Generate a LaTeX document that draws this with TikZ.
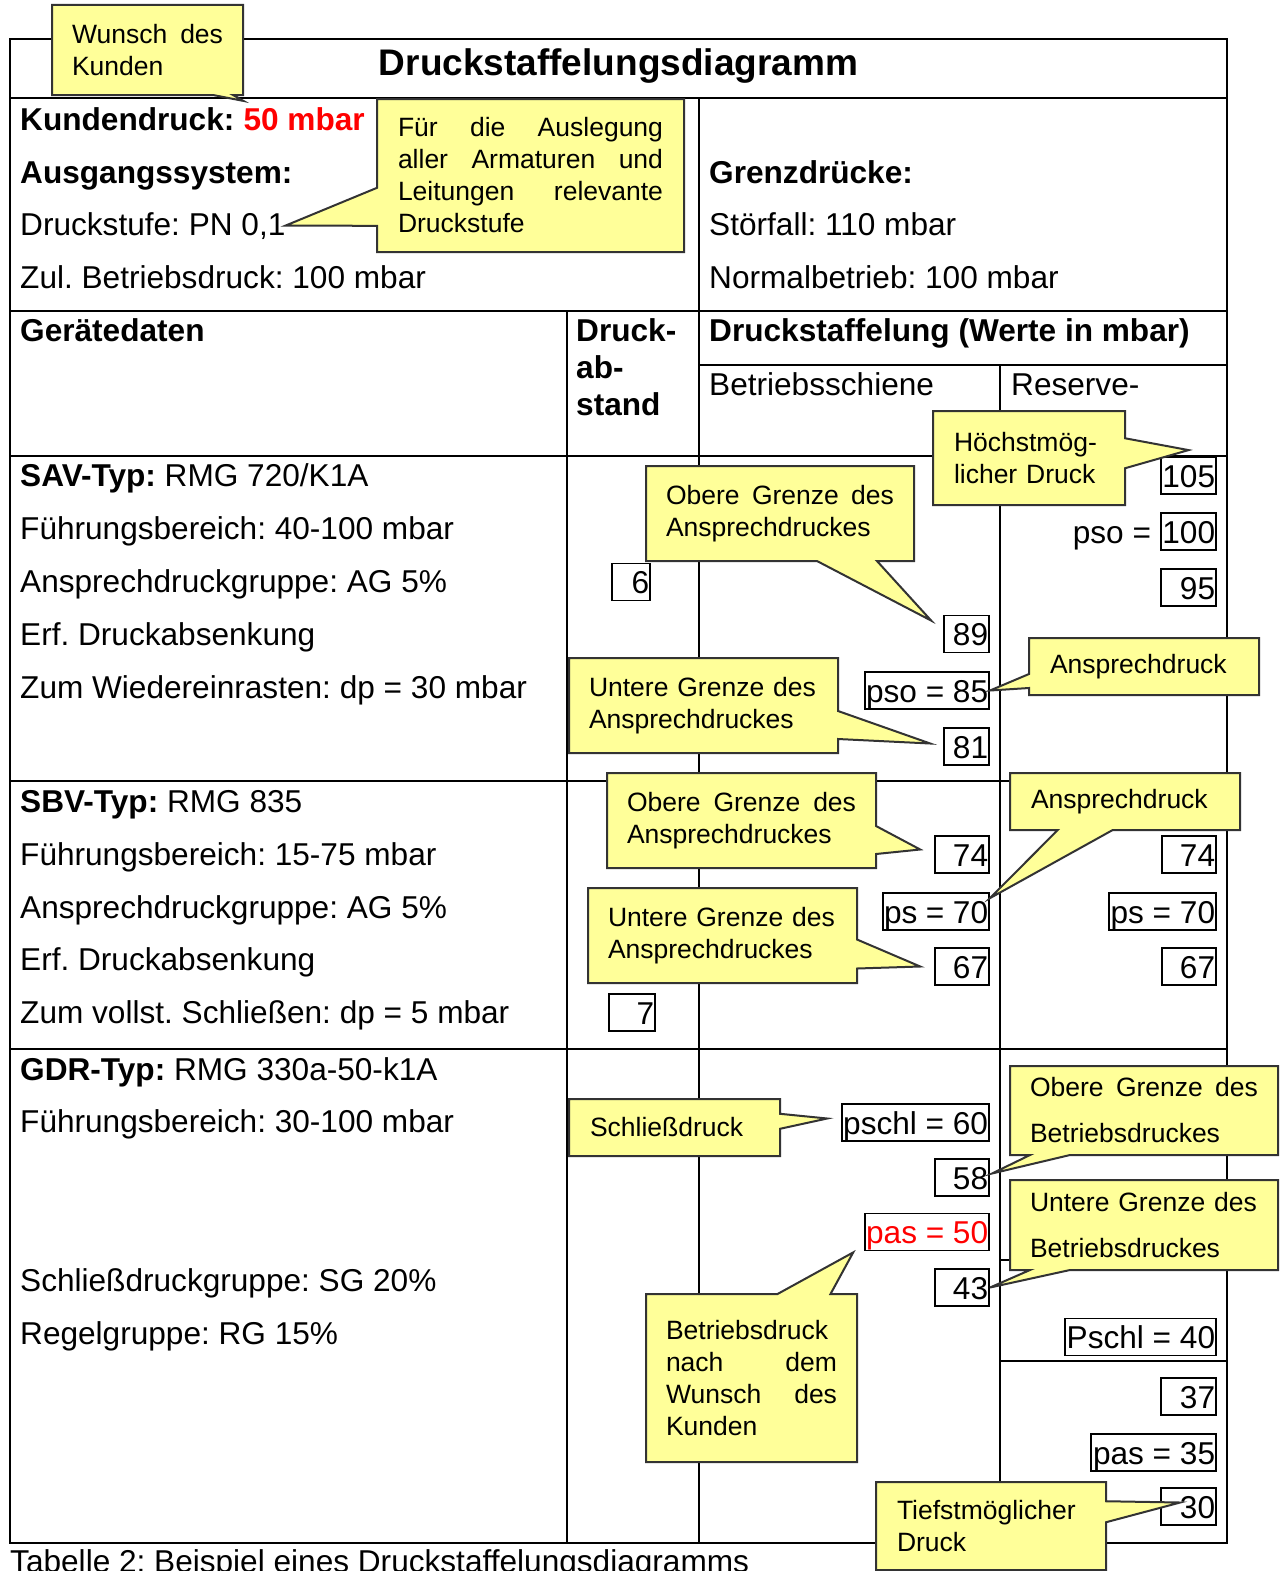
\documentclass[tikz,border=0pt]{standalone}
\usepackage{fontspec}
\setmainfont{Liberation Sans}
\usepackage{tikz}
\usetikzlibrary{shapes.callouts,positioning,calc}
\definecolor{notefill}{RGB}{255,255,153}
\definecolor{alarmred}{RGB}{255,0,0}
\hyphenpenalty=10000
\frenchspacing
\tikzset{
    table-line/.style = {line width=2pt, line cap=rect},
    cell-text/.style = {anchor=base west, inner sep=0pt, font=\fontsize{31.6}{37}\selectfont},
    cell-head/.style = {cell-text, font=\fontsize{31.6}{37}\selectfont\bfseries},
    value-text/.style = {anchor=east, inner sep=1pt, text height=29pt, text depth=6pt, font=\fontsize{31.6}{37}\selectfont},
    value-box/.style = {value-text, draw, line width=1.8pt,
        execute at begin node={\hbox to #1\bgroup\hfill}, execute at end node={\egroup}},
    note/.style = {rectangle callout, draw=black!80, line width=2pt, fill=notefill, inner sep=0pt, align=left, font=\fontsize{26.5}{32}\selectfont},
}

\begin{document}
\begin{tikzpicture}[x=1pt,y=-1pt]
\useasboundingbox (0,0) rectangle (1284,1571);

% table grid
\draw[table-line] (10,39) rectangle (1227,1543);
\draw[table-line] (10,98) -- (1227,98) (10,311) -- (1227,311) (10,456) -- (1227,456)
    (10,781) -- (1227,781) (10,1049) -- (1227,1049);
\draw[table-line] (699,98) -- (699,1543) (567,311) -- (567,1543) (1000,365) -- (1000,1543);
\draw[table-line] (699,365) -- (1227,365) (1000,1260) -- (1227,1260) (1000,1361) -- (1227,1361);

% head of the table
\node[cell-head, anchor=base, font=\fontsize{37}{44}\selectfont\bfseries] (title) at (618.5,75) {Druckstaffelungsdiagramm};
\node[cell-head] (kd) at (20,130) {Kundendruck:};
\node[cell-head, text=alarmred] (kd-value) at ([xshift=8.8pt]kd.base east) {50 mbar};
\node[cell-head] (ags) at (20,183) {Ausgangssystem:};
\node[cell-text] (ds) at (20,235) {Druckstufe: PN 0,1};
\node[cell-text] (zbd) at (20,288) {Zul. Betriebsdruck: 100 mbar};
\node[cell-head] (gd) at (709,183) {Grenzdrücke:};
\node[cell-text] (sf) at (709,235) {Störfall: 110 mbar};
\node[cell-text] (nb) at (709,288) {Normalbetrieb: 100 mbar};

\node[cell-head] (gdaten) at (20,341) {Gerätedaten};
\node[cell-head] (da-1) at (576,341) {Druck-};
\node[cell-head] (da-2) at (576,378) {ab-};
\node[cell-head] (da-3) at (576,415) {stand};
\node[cell-head] (dst) at (709,341) {Druckstaffelung (Werte in mbar)};
\node[cell-text] (bs) at (709,395) {Betriebsschiene};
\node[cell-text] (rs) at (1011,395) {Reserve-};

% device data
\node[cell-text] (sav-1) at (20,486) {\textbf{SAV-Typ:} RMG 720/K1A};
\node[cell-text] (sav-2) at (20,539) {Führungsbereich: 40-100 mbar};
\node[cell-text] (sav-3) at (20,592) {Ansprechdruckgruppe: AG 5\%};
\node[cell-text] (sav-4) at (20,645) {Erf. Druckabsenkung};
\node[cell-text] (sav-5) at (20,698) {Zum Wiedereinrasten: dp = 30 mbar};
\node[cell-text] (sbv-1) at (20,812) {\textbf{SBV-Typ:} RMG 835};
\node[cell-text] (sbv-2) at (20,865) {Führungsbereich: 15-75 mbar};
\node[cell-text] (sbv-3) at (20,918) {Ansprechdruckgruppe: AG 5\%};
\node[cell-text] (sbv-4) at (20,970) {Erf. Druckabsenkung};
\node[cell-text] (sbv-5) at (20,1023) {Zum vollst. Schließen: dp = 5 mbar};
\node[cell-text] (gdr-1) at (20,1080) {\textbf{GDR-Typ:} RMG 330a-50-k1A};
\node[cell-text] (gdr-2) at (20,1132) {Führungsbereich: 30-100 mbar};
\node[cell-text] (gdr-3) at (20,1291) {Schließdruckgruppe: SG 20\%};
\node[cell-text] (gdr-4) at (20,1344) {Regelgruppe: RG 15\%};

% pressure values
\node[value-box=36pt] (d6) at (651,582) {6};
\node[value-box=44pt] (d7) at (656,1012.5) {7};

\node[value-box=43pt] (b89) at (990,634) {89};
\node[value-box=122pt] (bp85) at (990,690.5) {pso = 85};
\node[value-box=43pt] (b81) at (990,746.5) {81};
\node[value-box=52pt] (b74) at (990,854.5) {74};
\node[value-box=104pt] (bp70) at (990,911.5) {ps = 70};
\node[value-box=145pt] (bpschl) at (990,1122.5) {pschl = 60};
\node[value-box=52pt] (b67) at (990,966.5) {67};
\node[value-box=52pt] (b58) at (990,1177.5) {58};
\node[value-box=122pt, text=alarmred] (bpas) at (990,1232) {pas = 50};
\node[value-box=52pt] (b43) at (990,1287.5) {43};

\node[value-box=53pt] (r105) at (1217,475.5) {105};
\node[value-box=53pt] (r100) at (1217,531.5) {100};
\node[value-text, left=8pt of r100] (r100-label) {pso =};
\node[value-box=53pt] (r95) at (1217,587.5) {95};
\node[value-box=52pt] (r74) at (1217,854.5) {74};
\node[value-box=105pt] (rp70) at (1217,911.5) {ps = 70};
\node[value-box=52pt] (r67) at (1217,966.5) {67};
\node[value-box=149pt] (rpschl) at (1217,1337) {Pschl = 40};
\node[value-box=53pt] (r37) at (1217,1396.5) {37};
\node[value-box=123pt] (rpas) at (1217,1452.5) {pas = 35};
\node[value-box=53pt] (r30) at (1217,1506.5) {30};

\node[cell-text] (caption) at (10,1572) {Tabelle 2: Beispiel eines Druckstaffelungsdiagramms};

% callouts
\node[note, text width=151pt, minimum width=191pt, minimum height=90pt, callout pointer width=20pt,
    callout absolute pointer={($(kd-value.north west)+(0,-6)$)}] (n-wunsch) at (147.5,50)
    {Wunsch\hfill des\\Kunden};
\node[note, text width=265pt, minimum width=307pt, minimum height=153pt, callout pointer width=38pt,
    callout absolute pointer={(ds.east)}] (n-stufe) at (530.5,175.5)
    {Für\hfill die\hfill Auslegung\\aller\hfill Armaturen\hfill und\\Leitungen\hfill relevante\\Druckstufe};
\node[note, text width=150pt, minimum width=192pt, minimum height=94pt, callout pointer width=30pt,
    callout absolute pointer={($(r105.north)+(0,-6)$)}] (n-max) at (1029,458)
    {Höchstmög-\\licher Druck};
\node[note, text width=228pt, minimum width=268pt, minimum height=95pt, callout pointer width=60pt,
    callout absolute pointer={($(b89.north west)+(-12,6)$)}] (n-sav-top) at (780,513.5)
    {Obere\hfill Grenze\hfill des\\Ansprechdruckes};
\node[note, text width=229pt, minimum width=269pt, minimum height=95pt, callout pointer width=28pt,
    callout absolute pointer={($(b81.west)+(-13,-3)$)}] (n-sav-low) at (703.5,705.5)
    {Untere Grenze des\\Ansprechdruckes};
\node[note, text width=188pt, minimum width=230pt, minimum height=57pt, callout pointer width=14pt,
    callout absolute pointer={(bp85.east)}] (n-sav-set) at (1144,666.5)
    {Ansprechdruck};
\node[note, text width=229pt, minimum width=269pt, minimum height=95pt, callout pointer width=28pt,
    callout absolute pointer={($(b74.west)+(-14,-5)$)}] (n-sbv-top) at (741.5,820.5)
    {Obere\hfill Grenze\hfill des\\Ansprechdruckes};
\node[note, text width=188pt, minimum width=230pt, minimum height=57pt, callout pointer width=55pt,
    callout absolute pointer={($(bp70.north east)+(0,6)$)}] (n-sbv-set) at (1125,801.5)
    {Ansprechdruck};
\node[note, text width=229pt, minimum width=269pt, minimum height=95pt, callout pointer width=29pt,
    callout absolute pointer={($(b67.west)+(-14,0)$)}] (n-sbv-low) at (722.5,935.5)
    {Untere Grenze des\\Ansprechdruckes};
\node[note, text width=169pt, minimum width=211pt, minimum height=57pt, callout pointer width=15pt,
    callout absolute pointer={($(bpschl.west)+(-14,-4)$)}] (n-schl) at (674.5,1127.5)
    {Schließdruck};
\node[note, font=\fontsize{26.5}{46}\selectfont, text width=228pt, minimum width=268pt, minimum height=89pt,
    callout pointer width=40pt, callout absolute pointer={($(b58.east)+(2,-4)$)}] (n-gdr-top) at (1144,1110.5)
    {Obere\hfill Grenze\hfill des\\Betriebsdruckes};
\node[note, font=\fontsize{26.5}{46}\selectfont, text width=228pt, minimum width=268pt, minimum height=90pt,
    callout pointer width=40pt, callout absolute pointer={(b43.east)}] (n-gdr-low) at (1144,1225)
    {Untere Grenze des\\Betriebsdruckes};
\node[note, text width=171pt, minimum width=211pt, minimum height=168pt, callout pointer width=53pt,
    callout absolute pointer={($(bpas.south west)+(-11,1)$)}] (n-wish) at (751.5,1378)
    {Betriebsdruck\\nach\hfill dem\\Wunsch\hfill des\\Kunden};
\node[note, text width=188pt, minimum width=230pt, minimum height=88pt, callout pointer width=21pt,
    callout absolute pointer={($(r30.west)+(20,-4)$)}] (n-min) at (991,1526)
    {Tiefstmöglicher\\Druck};
\end{tikzpicture}
\end{document}
